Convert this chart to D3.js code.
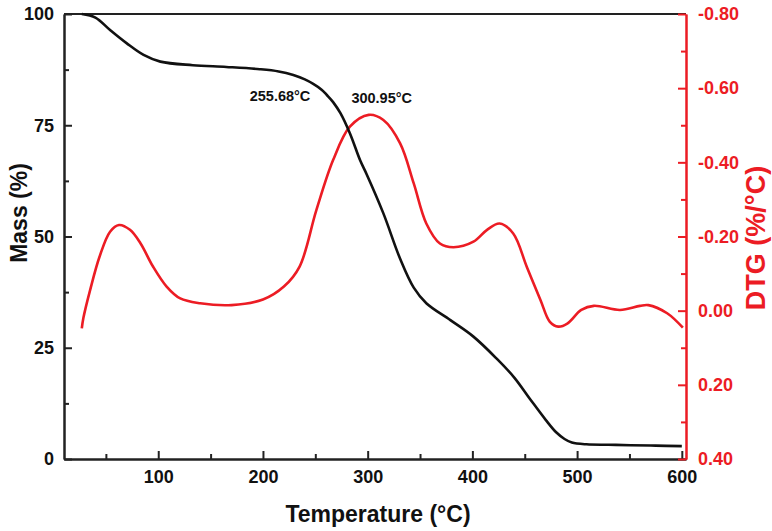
<!DOCTYPE html>
<html>
<head>
<meta charset="utf-8">
<script src="https://cdn.jsdelivr.net/npm/d3@7/dist/d3.min.js"></script>
<style>
  html, body { margin: 0; padding: 0; background: #fff; }
  svg { display: block; }
  text { font-family: "Liberation Sans", Arial, sans-serif; font-weight: bold; }
</style>
</head>
<body>
<svg id="chart" width="772" height="531"></svg>
<script>
// ---- Data ----
const massTemp = [27, 40, 54, 70, 86, 102, 133, 165, 197, 215, 229, 240, 248, 256, 261, 267, 274, 283, 293, 299, 315, 331, 344, 356, 379, 401, 423, 440, 455, 470, 480, 488, 495, 509, 530, 551, 575, 600];
const massValues = [100, 99.2, 96.4, 93.4, 90.8, 89.3, 88.5, 88.1, 87.6, 87.1, 86.3, 85.3, 84.3, 83, 81.8, 80.2, 77.7, 73.2, 67, 64, 55.2, 45, 38.5, 35, 31.2, 27.5, 22.6, 18.3, 13.5, 8.8, 6, 4.5, 3.7, 3.3, 3.2, 3.1, 3.0, 2.9];

const dtgTemp = [27, 28.5, 35, 44, 54, 62.5, 73, 83, 95, 108, 121, 140, 170, 200, 220, 235, 251, 267, 283, 301, 315, 331, 344, 356, 369, 382, 401, 414, 426, 439, 452, 465, 474, 482, 491, 504, 516, 541, 560, 568, 586, 601];
const dtgValues = [0.048, 0.02, -0.056, -0.146, -0.213, -0.231, -0.218, -0.182, -0.119, -0.065, -0.033, -0.02, -0.015, -0.03, -0.065, -0.119, -0.271, -0.406, -0.496, -0.528, -0.514, -0.451, -0.343, -0.235, -0.181, -0.171, -0.186, -0.218, -0.235, -0.208, -0.118, -0.029, 0.03, 0.043, 0.034, -0.002, -0.013, -0.002, -0.013, -0.015, 0.007, 0.046];

const xTicks = [100, 200, 300, 400, 500, 600];
const xMinorTicks = [50, 150, 250, 350, 450, 550];
const massTicks = [0, 25, 50, 75, 100];
const massMinorTicks = [12.5, 37.5, 62.5, 87.5];
const dtgTicks = [-0.8, -0.6, -0.4, -0.2, 0, 0.2, 0.4];
const dtgMinorTicks = [-0.7, -0.5, -0.3, -0.1, 0.1, 0.3];

const annotations = [
  { label: "255.68°C", t: 216.3, m: 80.45 },
  { label: "300.95°C", t: 313.4, m: 80.1 }
];

const xTitle = "Temperature (°C)";
const yTitle = "Mass (%)";
const y2Title = "DTG (%/°C)";

(function () {
// ---- Layout ----
const RED = "#ec1c24";
const pL = 64, pR = 686, pT = 14, pB = 459;
const svg = d3.select("#chart");

const x = d3.scaleLinear().domain([10, 604]).range([pL, pR]);
const y = d3.scaleLinear().domain([0, 100]).range([pB, pT]);
const y2 = d3.scaleLinear().domain([0.4, -0.8]).range([pB, pT]);

const f2 = d3.formatLocale({ decimal: ".", thousands: ",", grouping: [3], currency: ["", ""], minus: "-" }).format(".2f");

// Frame top line
svg.append("line").attr("x1", pL).attr("x2", pR).attr("y1", pT).attr("y2", pT)
  .attr("stroke", "#222").attr("stroke-width", 2);

// Bottom axis
svg.append("g").attr("transform", `translate(0,${pB})`)
  .call(d3.axisBottom(x).tickValues(xTicks).tickSize(-8).tickSizeOuter(0).tickPadding(11).tickFormat(d3.format("d")));
svg.append("g").attr("transform", `translate(0,${pB})`)
  .call(d3.axisBottom(x).tickValues(xMinorTicks).tickSize(-5).tickSizeOuter(0).tickFormat(""));

// Left axis
svg.append("g").attr("transform", `translate(${pL},0)`)
  .call(d3.axisLeft(y).tickValues(massTicks).tickSize(-8).tickSizeOuter(0).tickPadding(10).tickFormat(d3.format("d")));
svg.append("g").attr("transform", `translate(${pL},0)`)
  .call(d3.axisLeft(y).tickValues(massMinorTicks).tickSize(-5).tickSizeOuter(0).tickFormat(""));

// Right axis
svg.append("g").attr("class", "red").attr("transform", `translate(${pR},0)`)
  .call(d3.axisRight(y2).tickValues(dtgTicks).tickSize(-8).tickSizeOuter(0).tickPadding(12).tickFormat(f2));
svg.append("g").attr("class", "red").attr("transform", `translate(${pR},0)`)
  .call(d3.axisRight(y2).tickValues(dtgMinorTicks).tickSize(-5).tickSizeOuter(0).tickFormat(""));

svg.selectAll("g .domain").attr("stroke", "#222").attr("stroke-width", 2);
svg.selectAll("g .tick line").attr("stroke", "#222").attr("stroke-width", 2);
svg.selectAll("g text").attr("font-size", 18).attr("fill", "#111");
svg.selectAll("g.red .domain, g.red .tick line").attr("stroke", RED);
svg.selectAll("g.red text").attr("fill", RED);

// Curves
const massData = massTemp.map((t, i) => [t, massValues[i]]);
const dtgData = dtgTemp.map((t, i) => [t, dtgValues[i]]);

svg.append("path").datum(dtgData)
  .attr("fill", "none").attr("stroke", RED).attr("stroke-width", 2.6)
  .attr("d", d3.line().x(d => x(d[0])).y(d => y2(d[1])).curve(d3.curveCatmullRom.alpha(0.5)));

svg.append("path").datum(massData)
  .attr("fill", "none").attr("stroke", "#111").attr("stroke-width", 2.6)
  .attr("d", d3.line().x(d => x(d[0])).y(d => y(d[1])).curve(d3.curveCatmullRom.alpha(0.5)));

// Annotations
svg.selectAll("text.ann").data(annotations).enter().append("text")
  .attr("class", "ann")
  .attr("x", d => x(d.t)).attr("y", d => y(d.m))
  .attr("text-anchor", "middle").attr("font-size", 14.5).attr("fill", "#111")
  .text(d => d.label);

// Titles
svg.append("text").attr("x", (pL + pR) / 2 + 3).attr("y", 522)
  .attr("text-anchor", "middle").attr("font-size", 23).attr("fill", "#111").text(xTitle);
svg.append("text").attr("transform", "translate(27,213) rotate(-90)")
  .attr("text-anchor", "middle").attr("font-size", 23).attr("fill", "#111").text(yTitle);
svg.append("text").attr("transform", "translate(765,238) rotate(-90)")
  .attr("text-anchor", "middle").attr("font-size", 27).attr("fill", RED).text(y2Title);
})();
</script>
</body>
</html>
